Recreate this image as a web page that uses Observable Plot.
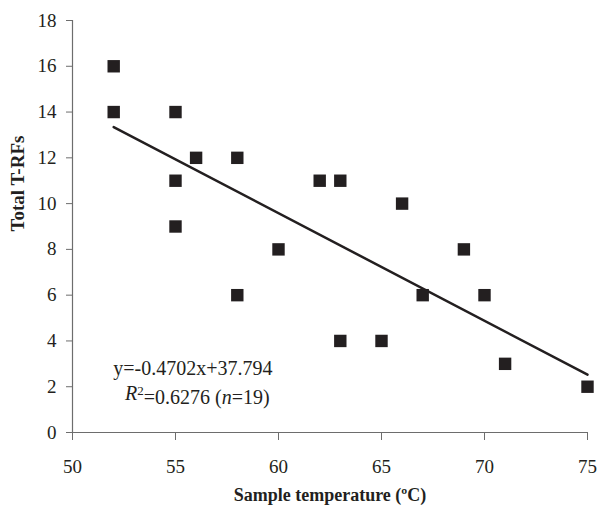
<!DOCTYPE html>
<html>
<head>
<meta charset="utf-8">
<script src="https://cdn.jsdelivr.net/npm/d3@7"></script>
<script src="https://cdn.jsdelivr.net/npm/@observablehq/plot@0.6"></script>
<style>
  html, body { margin: 0; padding: 0; background: #fff; }
  #chart svg { font-family: "Liberation Serif", "Times New Roman", serif; }
</style>
</head>
<body>
<div id="chart"></div>
<script>
// Sample temperature (°C) and total T-RFs
const temperature = [52, 52, 55, 55, 55, 56, 58, 58, 60, 62, 63, 63, 65, 66, 67, 69, 70, 71, 75];
const totalTRFs   = [16, 14, 14, 11, 9, 12, 12, 6, 8, 11, 11, 4, 4, 10, 6, 8, 6, 3, 2];
// Regression reported on the chart
const slope = -0.4702;
const intercept = 37.794;
const rSquared = "0.6276";
const nObs = 19;
const fitRange = [52, 75];
const xTicks = [50, 55, 60, 65, 70, 75];
const yTicks = [0, 2, 4, 6, 8, 10, 12, 14, 16, 18];

const points = temperature.map((t, i) => ({t, v: totalTRFs[i]}));
const fit = fitRange.map(t => ({t, v: slope * t + intercept}));

const ink = "#231f20";
const axisGray = "#6d6d6d";

const chart = Plot.plot({
  width: 597,
  height: 512,
  marginLeft: 72,
  marginRight: 10,
  marginTop: 20,
  marginBottom: 80,
  style: {fontSize: "19px", fontFamily: "Liberation Serif, Times New Roman, serif", color: ink, background: "#fff"},
  x: {domain: [50, 75], ticks: xTicks, label: null},
  y: {domain: [0, 18], ticks: yTicks, label: null},
  marks: [
    Plot.axisX({ticks: xTicks, tickSize: 8, tickPadding: 19, stroke: axisGray, fill: ink, label: null, fontSize: 19}),
    Plot.axisY({ticks: yTicks, tickSize: 6, tickPadding: 10, stroke: axisGray, fill: ink, label: null, fontSize: 19}),
    Plot.ruleY([0], {stroke: axisGray, strokeWidth: 1.2}),
    Plot.ruleX([50], {stroke: axisGray, strokeWidth: 1.2}),
    Plot.line(fit, {x: "t", y: "v", stroke: ink, strokeWidth: 2.5}),
    Plot.dot(points, {x: "t", y: "v", symbol: "square", r: 7, fill: ink, stroke: "none"}),
    Plot.text(["y=-0.4702x+37.794"], {x: [51.98], y: [2.8], text: d => d, textAnchor: "start", fill: ink, fontSize: 20, className: "eq1"}),
    Plot.text(["R2"], {x: [52.55], y: [1.68], text: d => d, textAnchor: "start", fill: ink, fontSize: 20, className: "eq2"}),
    Plot.text(["Sample temperature (ºC)"], {frameAnchor: "bottom", dy: 68, text: d => d, fontWeight: "bold", fontSize: 18, fill: ink}),
    Plot.text(["Total T-RFs"], {frameAnchor: "left", dx: -55, dy: 5, rotate: -90, text: d => d, fontWeight: "bold", fontSize: 19, fill: ink})
  ]
});

// Rich text for R² line (italic R, superscript 2, italic n)
const t2 = d3.select(chart).select("g.eq2 text");
t2.text(null);
t2.append("tspan").attr("font-style", "italic").text("R");
t2.append("tspan").attr("dy", "-0.45em").attr("font-size", "13px").text("2");
t2.append("tspan").attr("dy", "0.45em").text("=" + rSquared + " (");
t2.append("tspan").attr("font-style", "italic").text("n");
t2.append("tspan").text("=" + nObs + ")");

document.getElementById("chart").appendChild(chart);
</script>
</body>
</html>
